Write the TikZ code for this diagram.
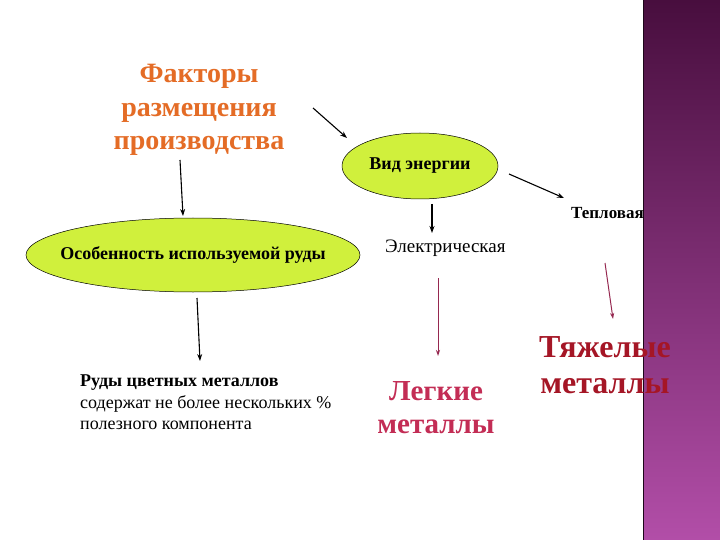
\documentclass[tikz,border=0pt]{standalone}
\usepackage{fontspec}
\setmainfont{Liberation Serif}
\usetikzlibrary{shapes.geometric,arrows.meta}
\definecolor{orangeT}{RGB}{228,108,38}
\definecolor{lime}{RGB}{208,240,60}
\definecolor{bandTop}{RGB}{72,14,62}
\definecolor{bandBot}{RGB}{178,78,168}
\definecolor{darkred}{RGB}{165,22,38}
\definecolor{pinkred}{RGB}{195,45,85}
\definecolor{arrowred}{RGB}{150,40,80}
\tikzset{
  x=1pt,y=-1pt,
  blk/.style={-{Stealth[length=7pt,width=5pt]},line width=1.1pt,black},
  redarr/.style={-{Stealth[length=6pt,width=4pt]},line width=1pt,arrowred},
  oval/.style={ellipse,draw=black,line width=0.5pt,fill=lime,inner xsep=-25pt,inner ysep=0pt,font=\bfseries\fontsize{18}{20}\selectfont},
  lbl/.style={inner sep=0pt,font=\fontsize{18}{20}\selectfont}
}
\begin{document}
\begin{tikzpicture}
\useasboundingbox (0,0) rectangle (720,540);
\fill[white] (0,0) rectangle (720,540);
\shade[top color=bandTop,bottom color=bandBot] (643,0) rectangle (720,540);
\draw[line width=1pt,black!60!bandTop] (643,0) -- (643,540);

\node[align=center,inner sep=0pt,text=orangeT,font=\bfseries\fontsize{28}{33.5}\selectfont] (fact) at (199,110) {Факторы\\размещения\\производства};

\node[oval,minimum width=156pt,minimum height=66pt] (vid) at (420,166) {Вид энергии};
\node[oval,minimum width=334pt,minimum height=74pt] (osob) at (193,255) {Особенность используемой руды};

\node[lbl,font=\bfseries\fontsize{17}{20}\selectfont,anchor=west] (tepl) at (571,213) {Тепловая};
\node[lbl,font=\fontsize{19}{20}\selectfont,anchor=west] (elek) at (385,248) {Электрическая};

\node[align=left,anchor=north west,inner sep=0pt,font=\fontsize{18}{21.5}\selectfont] (rudy) at (80,375) {\textbf{Руды цветных металлов}\\содержат не более нескольких \%\\полезного компонента};

\node[align=center,inner sep=0pt,text=pinkred,font=\bfseries\fontsize{29}{33}\selectfont] (leg) at (436,408) {Легкие\\металлы};
\node[align=center,inner sep=0pt,text=darkred,font=\bfseries\fontsize{32}{36}\selectfont] (tyazh) at (605,365) {Тяжелые\\металлы};

\coordinate (a1s) at (180,160); \coordinate (a1e) at (183,216);
\draw[blk] (a1s) -- (a1e);
\coordinate (a2s) at (313,108); \coordinate (a2e) at (347,138);
\draw[blk] (a2s) -- (a2e);
\coordinate (a3s) at (509,174); \coordinate (a3e) at (564,198);
\draw[blk] (a3s) -- (a3e);
\coordinate (a4s) at (432,204); \coordinate (a4e) at (432,233);
\draw[blk] (a4s) -- (a4e);
\coordinate (a5s) at (197,298); \coordinate (a5e) at (200,361);
\draw[blk] (a5s) -- (a5e);
\coordinate (a6s) at (438,278); \coordinate (a6e) at (438,356);
\draw[redarr] (a6s) -- (a6e);
\coordinate (a7s) at (605,263); \coordinate (a7e) at (613,319);
\draw[redarr] (a7s) -- (a7e);
\end{tikzpicture}
\end{document}
